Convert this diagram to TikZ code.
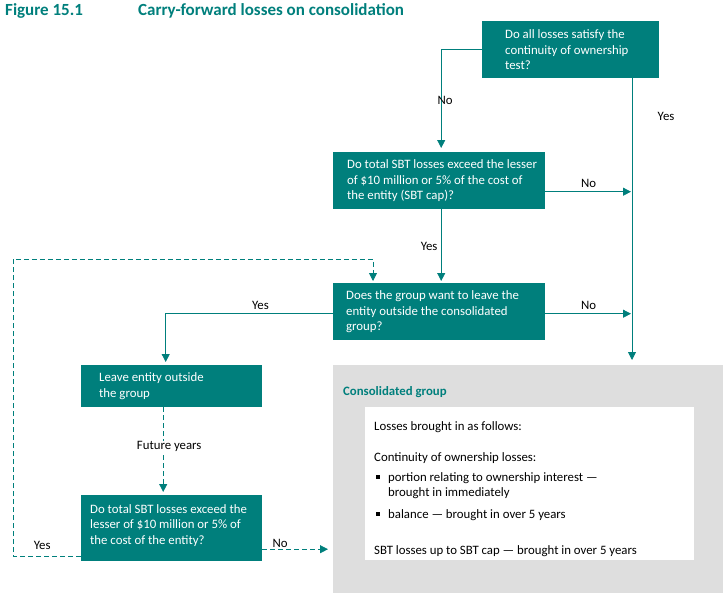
\documentclass[tikz,border=0pt]{standalone}
\usepackage{fontspec}
\setmainfont{Carlito}
\usetikzlibrary{arrows.meta}

\definecolor{cfteal}{HTML}{007F7C}
\definecolor{cfgrey}{HTML}{DEDEDE}
\newcommand{\cffont}{\fontsize{12.8}{15.5}\selectfont}

\tikzset{
  qbox/.style={fill=cfteal, anchor=north west, inner sep=0pt},
  qtext/.style={text=white, align=left, anchor=west, inner sep=0pt, font=\cffont},
  lbl/.style={font=\cffont, text=black},
  arr/.style={draw=cfteal, line width=0.8pt, -{Triangle[length=8pt,width=8pt]}},
  darr/.style={arr, dash pattern=on 5pt off 3pt},
}

\begin{document}
\begin{tikzpicture}[x=1pt, y=-1pt]
  \useasboundingbox (0,0) rectangle (727,599);
  % title
  \node[anchor=base west, inner sep=0pt, text=cfteal, font=\fontsize{17}{20}\selectfont\bfseries] (fig) at (5,16) {Figure 15.1};
  \node[anchor=base west, inner sep=0pt, text=cfteal, font=\fontsize{17}{20}\selectfont\bfseries] (title) at (138,16) {Carry-forward losses on consolidation};
  % question boxes
  \node[qbox, minimum width=177, minimum height=57] (own) at (482,21) {};
  \node[qtext] (ownt) at ([xshift=23]own.west) {Do all losses satisfy the\\continuity of ownership\\test?};
  \node[qbox, minimum width=212, minimum height=57] (sbt) at (333,152) {};
  \node[qtext] (sbtt) at ([xshift=14]sbt.west) {Do total SBT losses exceed the lesser\\of \$10 million or 5\% of the cost of\\the entity (SBT cap)?};
  \node[qbox, minimum width=212, minimum height=57] (out) at (333,283) {};
  \node[qtext] (outt) at ([xshift=13]out.west) {Does the group want to leave the\\entity outside the consolidated\\group?};
  \node[qbox, minimum width=181, minimum height=42] (leave) at (81,365) {};
  \node[qtext] (leavet) at ([xshift=18]leave.west) {Leave entity outside\\the group};
  \node[qbox, minimum width=181, minimum height=66] (sbtb) at (81,495) {};
  \node[qtext] (sbtbt) at ([xshift=9,yshift=3]sbtb.west) {Do total SBT losses exceed the\\lesser of \$10 million or 5\% of\\the cost of the entity?};
  % consolidated group
  \node[fill=cfgrey, anchor=north west, inner sep=0pt, minimum width=390, minimum height=228] (cons) at (333,365) {};
  \node[anchor=base west, inner sep=0pt, text=cfteal, font=\cffont\bfseries] (const) at (343,395) {Consolidated group};
  \node[fill=white, anchor=north west, inner sep=0pt, minimum width=329, minimum height=153] (list) at (365,407) {};
  \node[lbl, anchor=base west, inner sep=0pt] (l1) at (374,430) {Losses brought in as follows:};
  \node[lbl, anchor=base west, inner sep=0pt] (l2) at (374,461) {Continuity of ownership losses:};
  \node[fill=black, inner sep=0pt, minimum size=3.6] (b1) at (378,477) {};
  \node[lbl, anchor=base west, inner sep=0pt] (l3) at (388,481) {portion relating to ownership interest ---};
  \node[lbl, anchor=base west, inner sep=0pt] (l3b) at (388,496) {brought in immediately};
  \node[fill=black, inner sep=0pt, minimum size=3.6] (b2) at (378,514) {};
  \node[lbl, anchor=base west, inner sep=0pt] (l4) at (388,518) {balance --- brought in over 5 years};
  \node[lbl, anchor=base west, inner sep=0pt] (l5) at (374,554) {SBT losses up to SBT cap --- brought in over 5 years};
  % connectors
  \coordinate (trunk) at (632,78);
  \coordinate (sbtno) at ([yshift=-11]sbt.east);
  \coordinate (outno) at ([yshift=-2]out.east);
  \coordinate (outyes) at ([yshift=-2]out.west);
  \coordinate (loopl) at (13,259);
  \coordinate (sbtbyes) at ([yshift=-28]sbtb.west);
  \draw[arr, shorten >=4pt] (own.west) -| ([xshift=2]sbt.north) node[lbl, pos=0.75, xshift=4] {No};
  \draw[arr, shorten >=5pt] (trunk) -- (trunk |- cons.north) node[lbl, pos=0.135, right=22pt] {Yes};
  \draw[arr, shorten >=1pt] (sbtno) -- (sbtno -| trunk) node[lbl, midway, above] {No};
  \draw[arr, shorten >=2pt] ([xshift=2]sbt.south) -- ([xshift=2]out.north) node[lbl, midway, left] {Yes};
  \draw[arr, shorten >=1pt] (outno) -- (outno -| trunk) node[lbl, midway, above] {No};
  \draw[arr, shorten >=3pt] (outyes) -| ([xshift=-6]leave.north) node[lbl, pos=0.217, above] {Yes};
  \draw[darr, shorten >=3pt] ([xshift=-8.5]leave.south) -- ([xshift=-8.5]sbtb.north) node[lbl, pos=0.45, xshift=6, fill=white, inner sep=1pt] {Future years};
  \draw[darr, shorten >=2pt] (sbtbyes) -- node[lbl, pos=0.57, above, yshift=3] {Yes} (sbtbyes -| loopl) -- (loopl) -| ([xshift=40]out.north west);
  \draw[darr, shorten >=5pt] ([yshift=-21]sbtb.east) -- ([yshift=-21]sbtb.east -| cons.west) node[lbl, pos=0.25, anchor=south, inner sep=1pt] {No};
\end{tikzpicture}
\end{document}
